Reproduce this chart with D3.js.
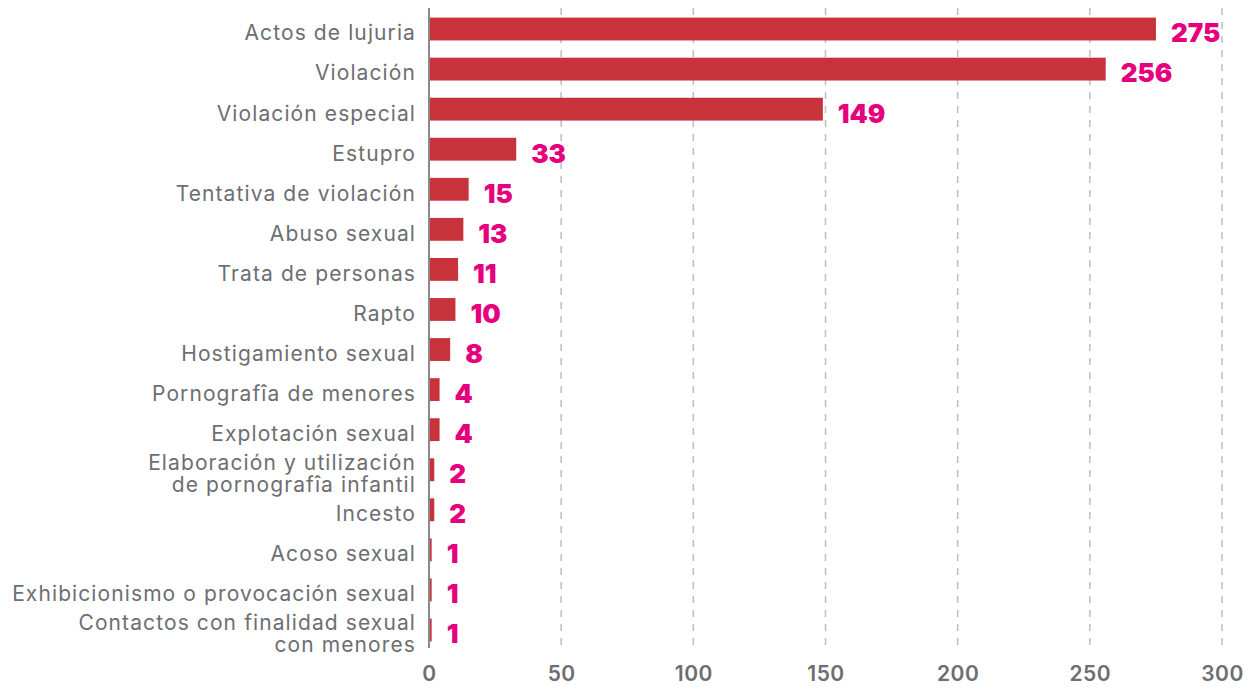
<!DOCTYPE html>
<html><head><meta charset="utf-8">
<script src="https://cdn.jsdelivr.net/npm/d3@7"></script>
<style>
html,body{margin:0;padding:0;background:#fff;}
svg{display:block;}
</style></head>
<body>
<svg id="chart" width="1254" height="689"></svg>
<script>
const categories = [
  "Actos de lujuria", "Violación", "Violación especial", "Estupro",
  "Tentativa de violación", "Abuso sexual", "Trata de personas", "Rapto",
  "Hostigamiento sexual", "Pornografîa de menores", "Explotación sexual",
  "Elaboración y utilización\nde pornografîa infantil", "Incesto", "Acoso sexual",
  "Exhibicionismo o provocación sexual", "Contactos con finalidad sexual\ncon menores"
];
const values = [275, 256, 149, 33, 15, 13, 11, 10, 8, 4, 4, 2, 2, 1, 1, 1];
const xTicks = [0, 50, 100, 150, 200, 250, 300];

(function() {
const svg = d3.select("#chart");
const mLeft = 429, mRight = 1222, mTop = 9, mBottom = 650;
const x = d3.scaleLinear().domain([0, 300]).range([mLeft, mRight]);
const y = d3.scaleBand().domain(categories).range([mTop, mBottom]).paddingInner(0.43).paddingOuter(0.215);

const font = "Inter, 'Open Sans', sans-serif";

// gridlines
svg.append("g").selectAll("line").data(xTicks.filter(d => d > 0)).join("line")
  .attr("x1", d => x(d)).attr("x2", d => x(d))
  .attr("y1", 8).attr("y2", 648)
  .attr("stroke", "#bdbdc0").attr("stroke-width", 1.5)
  .attr("stroke-dasharray", "7,7");

// bars
svg.append("g").selectAll("rect").data(values).join("rect")
  .attr("x", x(0))
  .attr("y", (d, i) => y(categories[i]))
  .attr("width", d => x(d) - x(0))
  .attr("height", y.bandwidth())
  .attr("fill", "#c8323a");

// axis line
svg.append("line").attr("x1", x(0)).attr("x2", x(0)).attr("y1", 8).attr("y2", 648)
  .attr("stroke", "#8a8a8d").attr("stroke-width", 2);

// x axis
const xAxis = d3.axisBottom(x).tickValues(xTicks).tickSize(0).tickPadding(0);
const gx = svg.append("g").attr("transform", "translate(0,661)").call(xAxis);
gx.select(".domain").remove();
gx.selectAll("text").attr("font-family", font).attr("font-size", 21).attr("font-weight", 600)
  .attr("fill", "#6d6e71").attr("letter-spacing", "0.5").attr("dy", "0.95em");

// category labels
const lab = svg.append("g").selectAll("text").data(categories).join("text")
  .attr("x", 416)
  .attr("y", d => y(d) + y.bandwidth() / 2 + 4)
  .attr("text-anchor", "end")
  .attr("font-family", font).attr("font-size", 21).attr("fill", "#6d6e71")
  .attr("letter-spacing", "1.1");
lab.each(function(d) {
  const lines = d.split("\n");
  const t = d3.select(this);
  lines.forEach((ln, k) => {
    t.append("tspan").attr("x", 416)
      .attr("dy", k === 0 ? (0.35 - (lines.length - 1) * 0.52) + "em" : "1.04em")
      .text(ln);
  });
});

// value labels
svg.append("g").selectAll("text").data(values).join("text")
  .attr("x", d => x(d) + 15)
  .attr("y", (d, i) => y(categories[i]) + y.bandwidth() / 2 + 4)
  .attr("dy", "0.36em")
  .attr("font-family", font).attr("font-size", 26).attr("font-weight", 900)
  .attr("fill", "#e6007e").attr("letter-spacing", "0")
  .text(d => d);
})();
</script>
</body></html>
